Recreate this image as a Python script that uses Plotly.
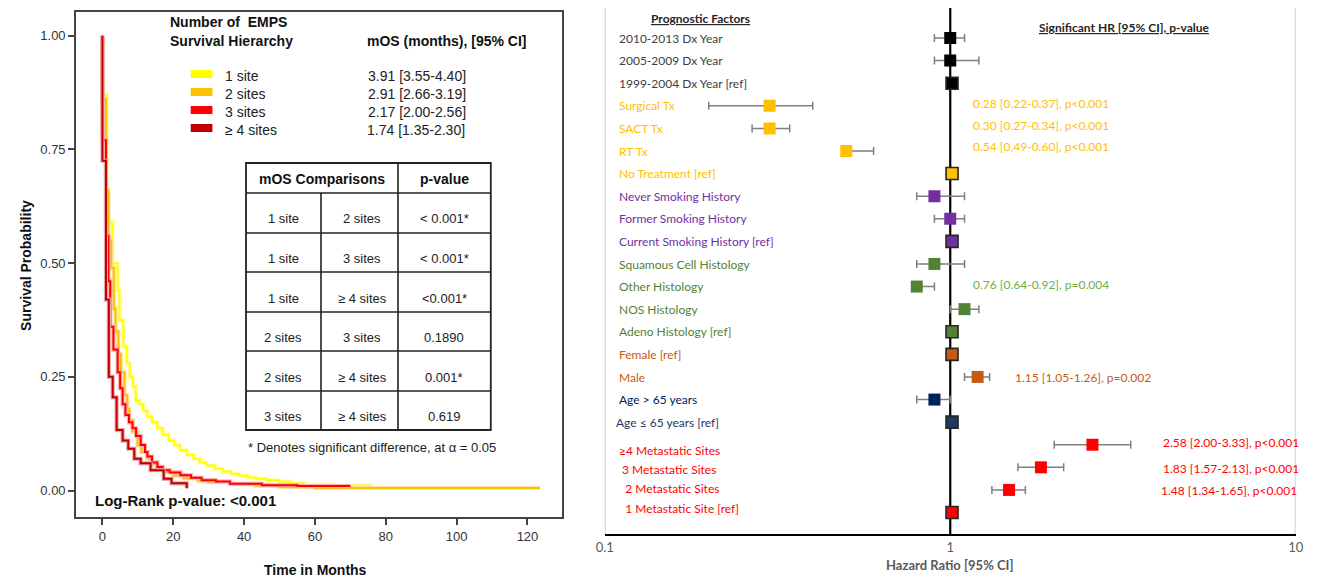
import plotly.graph_objects as go

OFF = 8  # browser body margin
W, H = 1319 - OFF, 579 - OFF
def px(x): return (x - OFF) / W
def py(y): return 1 - (y - OFF) / H

# ---------------- Kaplan-Meier data ----------------
km_names = ["1 site", "2 sites", "3 sites", "≥ 4 sites"]
km_colors = ["#FFFF00", "#FFC000", "#FF0000", "#C00000"]
km_halo = ["#FFFFB8", "#FFE4A0", "#FFB0B0", "#E8A8A8"]

t_1site = [0, 0, 1.2, 2.8, 4.3, 4.8, 5.9, 6.9, 7.7, 8.6, 9.4, 10.4, 11.5, 12.7, 14.0, 15.5, 17.0, 18.7,
           20.3, 21.9, 23.8, 25.7, 27.5, 29.4, 31.7, 34.0, 36.3, 38.6, 41.0, 43.3, 46.5, 49.8, 53.0, 57.0, 65.0, 76.0]
s_1site = [1.0, 0.87, 0.59, 0.50, 0.44, 0.375, 0.317, 0.28, 0.25, 0.229, 0.198, 0.19, 0.175, 0.163, 0.15, 0.137,
           0.123, 0.11, 0.10, 0.089, 0.079, 0.07, 0.062, 0.055, 0.048, 0.042, 0.037, 0.033, 0.029, 0.026, 0.023,
           0.02, 0.016, 0.013, 0.011, 0.011]

t_2sites = [0, 0, 1.0, 1.7, 2.5, 3.2, 3.7, 4.5, 5.2, 6.2, 7.0, 7.6, 8.5, 9.9, 11.0, 12.7, 14.0, 15.5, 17.3,
            20.0, 23.0, 27.0, 30.0, 36.0, 43.0, 50.0, 60.0, 123.5]
s_2sites = [1.0, 0.86, 0.66, 0.55, 0.49, 0.40, 0.35, 0.30, 0.26, 0.21, 0.18, 0.155, 0.13, 0.10, 0.085, 0.07,
            0.058, 0.048, 0.041, 0.033, 0.027, 0.022, 0.019, 0.015, 0.011, 0.008, 0.006, 0.006]

t_3sites = [0, 0, 1.0, 1.7, 2.2, 3.1, 4.3, 5.0, 5.7, 6.5, 7.5, 8.5, 9.5, 10.8, 12.0, 12.7, 14.0, 15.5, 17.0,
            19.0, 22.0, 25.0, 28.0, 32.0, 36.0, 45.0, 55.0, 70.0]
s_3sites = [1.0, 0.77, 0.56, 0.46, 0.36, 0.31, 0.26, 0.225, 0.19, 0.166, 0.15, 0.137, 0.12, 0.10, 0.085, 0.075,
            0.062, 0.052, 0.045, 0.04, 0.034, 0.028, 0.023, 0.02, 0.015, 0.012, 0.01, 0.01]

t_4sites = [0, 0, 1.0, 1.8, 2.9, 4.0, 5.7, 7.3, 9.0, 10.8, 13.6, 17.3, 19.5, 23.8]
s_4sites = [1.0, 0.725, 0.42, 0.25, 0.205, 0.133, 0.11, 0.092, 0.07, 0.06, 0.045, 0.026, 0.016, 0.005]

km_times = [t_1site, t_2sites, t_3sites, t_4sites]
km_surv = [s_1site, s_2sites, s_3sites, s_4sites]

mos_text = ["3.91 [3.55-4.40]", "2.91 [2.66-3.19]", "2.17 [2.00-2.56]", "1.74 [1.35-2.30]"]

x_ticks = [0, 20, 40, 60, 80, 100, 120]
y_ticks = [0, 0.25, 0.5, 0.75, 1.0]
y_ticktext = ["0.00", "0.25", "0.50", "0.75", "1.00"]

# comparison table
cmp_a = ["1 site", "1 site", "1 site", "2 sites", "2 sites", "3 sites"]
cmp_b = ["2 sites", "3 sites", "≥ 4 sites", "3 sites", "≥ 4 sites", "≥ 4 sites"]
cmp_p = ["< 0.001*", "< 0.001*", "<0.001*", "0.1890", "0.001*", "0.619"]

# ---------------- Forest plot data ----------------
factors = ["2010-2013 Dx Year", "2005-2009 Dx Year", "1999-2004 Dx Year [ref]", "Surgical Tx", "SACT Tx",
           "RT Tx", "No Treatment [ref]", "Never Smoking History", "Former Smoking History",
           "Current Smoking History [ref]", "Squamous Cell Histology", "Other Histology", "NOS Histology",
           "Adeno Histology [ref]", "Female [ref]", "Male", "Age > 65 years", "Age ≤ 65 years [ref]",
           "≥4 Metastatic Sites", " 3 Metastatic Sites", "  2 Metastatic Sites", "  1 Metastatic Site [ref]"]
groups = ["dx", "dx", "dx", "tx", "tx", "tx", "tx", "smk", "smk", "smk", "hist", "hist", "hist", "hist",
          "sex", "sex", "age", "age2", "met", "met", "met", "met"]
hr = [1.0, 1.0, 1.0, 0.30, 0.30, 0.50, 1.0, 0.90, 1.0, 1.0, 0.90, 0.80, 1.10, 1.0, 1.0, 1.20, 0.90, 1.0,
      2.58, 1.83, 1.48, 1.0]
ci_lo = [0.90, 0.90, None, 0.20, 0.267, 0.49, None, 0.80, 0.90, None, 0.80, 0.78, 1.0, None, None, 1.10, 0.80,
         None, 2.00, 1.57, 1.32, None]
ci_hi = [1.10, 1.21, None, 0.40, 0.343, 0.60, None, 1.10, 1.10, None, 1.10, 0.90, 1.21, None, None, 1.30, 1.0,
         None, 3.33, 2.13, 1.65, None]
sig_rows = [3, 4, 5, 11, 15, 18, 19, 20]
sig_text = ["0.28 [0.22-0.37], p<0.001", "0.30 [0.27-0.34], p<0.001", "0.54 [0.49-0.60], p<0.001",
            "0.76 [0.64-0.92], p=0.004", "1.15 [1.05-1.26], p=0.002", "2.58 [2.00-3.33], p<0.001",
            "1.83 [1.57-2.13], p<0.001", "1.48 [1.34-1.65], p<0.001"]

label_color = {"dx": "#404040", "tx": "#FFC000", "smk": "#7030A0", "hist": "#548235", "sex": "#C55A11",
               "age": "#002060", "age2": "#1F3864", "met": "#FF0000"}
marker_color = {"dx": "#000000", "tx": "#FFC000", "smk": "#7030A0", "hist": "#548235", "sex": "#C55A11",
                "age": "#002060", "age2": "#1F3864", "met": "#FF0000"}
sig_color = {"tx": "#FFC000", "hist": "#70AD47", "sex": "#C55A11", "met": "#FF0000"}

ARIAL = "Liberation Sans, Arial, sans-serif"
CAL = "Lato, Carlito, Calibri, sans-serif"

fig = go.Figure()

# KM curves
for name, col, halo, t, s in zip(km_names, km_colors, km_halo, km_times, km_surv):
    fig.add_trace(go.Scatter(x=t, y=s, mode="lines", line=dict(color=halo, width=4.2, shape="hv"),
                             xaxis="x", yaxis="y", hoverinfo="skip", showlegend=False))
    fig.add_trace(go.Scatter(x=t, y=s, mode="lines", line=dict(color=col, width=2.0, shape="hv"),
                             xaxis="x", yaxis="y", name=name, showlegend=False))

# Forest: non-ref rows with CI
nr = [i for i in range(len(factors)) if ci_lo[i] is not None]
rf = [i for i in range(len(factors)) if ci_lo[i] is None]
fig.add_trace(go.Scatter(
    x=[hr[i] for i in nr], y=nr, mode="markers", xaxis="x2", yaxis="y2", showlegend=False,
    marker=dict(symbol="square", size=12, color=[marker_color[groups[i]] for i in nr], line=dict(width=0)),
    error_x=dict(type="data", symmetric=False,
                 array=[ci_hi[i] - hr[i] for i in nr], arrayminus=[hr[i] - ci_lo[i] for i in nr],
                 color="#7F7F7F", thickness=1.5, width=4)))
fig.add_trace(go.Scatter(
    x=[hr[i] * 1.012 for i in rf], y=rf, mode="markers", xaxis="x2", yaxis="y2", showlegend=False,
    marker=dict(symbol="square", size=12, color=[marker_color[groups[i]] for i in rf],
                line=dict(width=1.6, color="#262626"))))

shapes = []
ann = []

def text(t, x, y, size, color="#000000", bold=False, xanchor="left", font=ARIAL, yanchor="middle"):
    ann.append(dict(text=("<b>%s</b>" % t) if bold else t, x=px(x), y=py(y), xref="paper", yref="paper",
                    xanchor=xanchor, yanchor=yanchor, showarrow=False, borderpad=0,
                    font=dict(family=font, size=size, color=color)))

# ---- left panel texts ----
text("Number of  EMPS", 162, 22, 14, "#111111", bold=True)
text("Survival Hierarchy", 162, 41, 14, "#111111", bold=True)
text("mOS (months), [95% CI]", 362, 41, 14, "#111111", bold=True)
leg_y = [76, 94, 112, 130]
for i, (nm, col, mt) in enumerate(zip(km_names, km_colors, mos_text)):
    shapes.append(dict(type="rect", xref="paper", yref="paper", x0=px(184), x1=px(206),
                       y0=py(leg_y[i] - 2 + 4), y1=py(leg_y[i] - 2 - 4), fillcolor=col, line=dict(width=0)))
    text(nm, 218, leg_y[i], 14, "#222222")
    text(mt, 363 if i < 3 else 362, leg_y[i], 14, "#222222")

# table
tl, tr, tt, tb = 240, 488, 163, 430
row_lines = [193, 233, 272, 312, 351, 391]
for yv in row_lines:
    shapes.append(dict(type="line", xref="paper", yref="paper", x0=px(tl), x1=px(tr), y0=py(yv), y1=py(yv),
                       line=dict(color="#222222", width=1.6)))
shapes.append(dict(type="rect", xref="paper", yref="paper", x0=px(tl), x1=px(tr), y0=py(tb), y1=py(tt),
                   line=dict(color="#222222", width=1.8)))
shapes.append(dict(type="line", xref="paper", yref="paper", x0=px(394), x1=px(394), y0=py(tt), y1=py(tb),
                   line=dict(color="#222222", width=1.6)))
shapes.append(dict(type="line", xref="paper", yref="paper", x0=px(316), x1=px(316), y0=py(193), y1=py(tb),
                   line=dict(color="#222222", width=1.6)))
text("mOS Comparisons", 317, 179, 14, "#111111", bold=True, xanchor="center")
text("p-value", 441, 179, 14, "#111111", bold=True, xanchor="center")
bounds = row_lines + [tb]
for i in range(6):
    yc = (bounds[i] + bounds[i + 1]) / 2 + 6
    text(cmp_a[i], 278, yc, 13, "#222222", xanchor="center")
    text(cmp_b[i], 358, yc, 13, "#222222", xanchor="center")
    text(cmp_p[i], 441, yc, 13, "#222222", xanchor="center")
text("* Denotes significant difference, at α = 0.05", 241, 447, 13, "#222222")
text("Log-Rank p-value: <0.001", 86, 500, 15, "#111111", bold=True)
text("Survival Probability", 17, 265, 14, "#111111", bold=True, xanchor="center")
ann[-1]["textangle"] = -90
text("Time in Months", 310, 570, 14, "#111111", bold=True, xanchor="center")

# ---- right panel texts ----
def row_y(i):
    return 38 + 22.6 * i

label_dx = {17: -3}
label_dy = {18: 6, 19: 2, 20: -1.5, 21: -4}
for i, f in enumerate(factors):
    text(f, 617 + label_dx.get(i, 0), row_y(i) + label_dy.get(i, 0), 12, label_color[groups[i]], font=CAL)
sig_x = {"tx": 976, "hist": 976, "sex": 1018, "met": 1168}
sig_dy = {3: -2, 4: -3, 5: -5, 11: -2, 15: 0, 18: -2, 19: 1, 20: 0}
for r, t in zip(sig_rows, sig_text):
    g = groups[r]
    xx = sig_x[g]
    if r == 20:
        xx = 1166
    text(t, xx, row_y(r) + sig_dy.get(r, 0), 12, sig_color[g], font=CAL)
text("<u>Prognostic Factors</u>", 700, 18, 12, "#262626", bold=True, xanchor="center", font=CAL)
text("<u>Significant HR [95% CI], p-value</u>", 1130, 27, 12, "#262626", bold=True, xanchor="center", font=CAL)
text("Hazard Ratio [95% CI]", 953, 565, 13, "#595959", bold=True, xanchor="center", font=CAL)

# right panel lines
shapes.append(dict(type="line", xref="x2", yref="paper", x0=1, x1=1, y0=py(534), y1=py(8),
                   line=dict(color="#000000", width=2.2), layer="below"))
for xv in [604, 1303]:
    shapes.append(dict(type="line", xref="paper", yref="paper", x0=px(xv), x1=px(xv), y0=py(534), y1=py(8),
                       line=dict(color="#D9D9D9", width=1.2), layer="below"))

fig.update_layout(
    width=W, height=H, autosize=False, margin=dict(l=0, r=0, t=0, b=0),
    paper_bgcolor="white", plot_bgcolor="white", showlegend=False,
    shapes=shapes, annotations=ann,
    xaxis=dict(domain=[px(68), px(560)], range=[-7.4, 129.7], tickvals=x_ticks, showgrid=False, zeroline=False,
               showline=True, linecolor="#444444", linewidth=2, mirror=True, ticks="outside", ticklen=6,
               tickwidth=2, tickcolor="#444444", tickfont=dict(family=ARIAL, size=13, color="#333333"),
               anchor="y"),
    yaxis=dict(domain=[py(517), py(12)], range=[-0.058, 1.052], tickvals=y_ticks, ticktext=y_ticktext,
               showgrid=False, zeroline=False, showline=True, linecolor="#444444", linewidth=2, mirror=True,
               ticks="outside", ticklen=6, tickwidth=2, tickcolor="#444444",
               tickfont=dict(family=ARIAL, size=13, color="#333333"), anchor="x"),
    xaxis2=dict(type="log", domain=[px(603.5), px(1303.5)], range=[-1, 1], tickvals=[0.1, 1, 10],
                ticktext=["0.1", "1", "10"], showgrid=False, zeroline=False, showline=True,
                linecolor="#000000", linewidth=2, ticks="", tickfont=dict(family=CAL, size=13, color="#595959"),
                anchor="y2"),
    yaxis2=dict(domain=[py(534), py(8)], range=[21.95, -1.327], visible=False, anchor="x2"),
)

fig.write_html("out.html", config={"responsive": False, "displayModeBar": False})
